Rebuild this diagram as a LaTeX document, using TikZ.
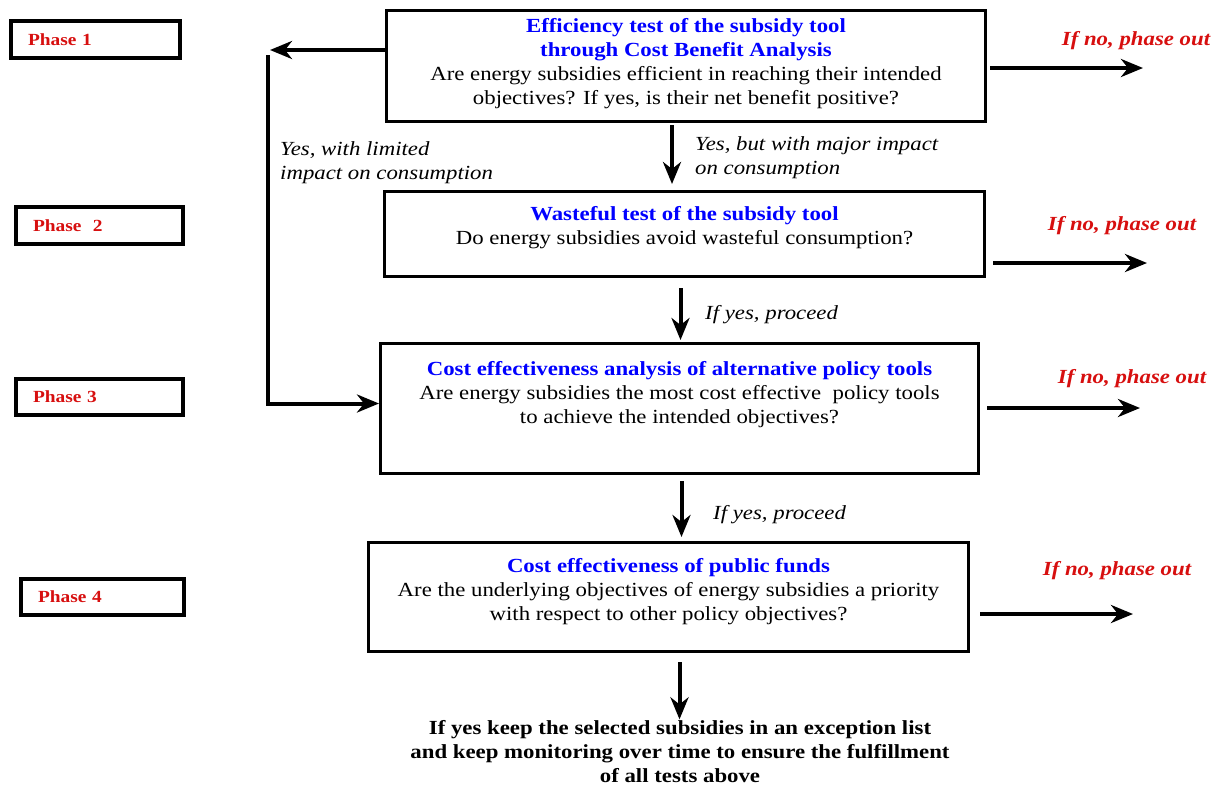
\documentclass[tikz,border=0pt]{standalone}
\usepackage{fontspec}
\setmainfont{Liberation Serif}[FakeStretch=1.14]
\usepackage{tikz}
\usetikzlibrary{arrows.meta,positioning}

\definecolor{phred}{RGB}{215,15,15}
\newcommand{\ttl}[1]{\textcolor{blue}{\textbf{#1}}}

\begin{document}
\begin{tikzpicture}[x=1pt,y=-1pt, ->,>={Stealth[length=22pt,width=18pt,inset=7pt]},
  box/.style={draw,-,line width=3pt,align=center,inner sep=0pt,font=\fontsize{20}{24}\selectfont},
  phasebox/.style={draw,-,line width=4pt,align=left,inner xsep=17pt,inner ysep=0pt,text=phred,font=\fontsize{17}{20}\selectfont\bfseries},
  nolab/.style={text=phred,font=\fontsize{20}{24}\selectfont\bfseries\itshape},
  yeslab/.style={align=left,inner sep=0pt,font=\fontsize{20}{24}\selectfont\itshape},
  arr/.style={line width=4pt}]
\useasboundingbox (0,0) rectangle (1218,785);
% phases
\node[phasebox,text width=135pt,minimum height=37pt](p1) at (95.5,39.5){Phase 1};
\node[phasebox,text width=133pt,minimum height=37pt](p2) at (99.5,225.5){Phase\ \ 2};
\node[phasebox,text width=133pt,minimum height=36pt](p3) at (99.5,397){Phase 3};
\node[phasebox,text width=129pt,minimum height=36pt](p4) at (102.5,597){Phase 4};
% tests
\node[box,minimum width=599pt,minimum height=111pt,text depth=9pt](b1) at (686,66){\ttl{Efficiency test of the subsidy tool}\\
  \ttl{through Cost Benefit Analysis}\\
  Are energy subsidies efficient in reaching their intended\\
  objectives? If yes, is their net benefit positive?};
\node[box,minimum width=600pt,minimum height=85pt,text depth=18pt](b2) at (684.5,234){\ttl{Wasteful test of the subsidy tool}\\
  Do energy subsidies avoid wasteful consumption?};
\node[box,minimum width=598pt,minimum height=130pt,text depth=33pt](b3) at (679.5,408.5){\ttl{Cost effectiveness analysis of alternative policy tools}\\
  Are energy subsidies the most cost effective\ \ policy tools\\
  to achieve the intended objectives?};
\node[box,minimum width=600pt,minimum height=109pt,text depth=16pt](b4) at (668.5,597){\ttl{Cost effectiveness of public funds}\\
  Are the underlying objectives of energy subsidies a priority\\
  with respect to other policy objectives?};
\node[box,draw=none,font=\fontsize{20}{24}\selectfont\bfseries](fin) at (680,752){If yes keep the selected subsidies in an exception list\\
  and keep monitoring over time to ensure the fulfillment\\
  of all tests above};
% phase out
\coordinate (o1) at (1143,68);
\coordinate (o2) at (1147,263);
\coordinate (o3) at (1140,408);
\coordinate (o4) at (1133,614);
\node[nolab](n1) at (1136,41){If no, phase out};
\node[nolab](n2) at (1122,226){If no, phase out};
\node[nolab](n3) at (1132,379){If no, phase out};
\node[nolab](n4) at (1117,571){If no, phase out};
\draw[arr,shorten <=3pt] (b1.east|-o1) -- (o1);
\draw[arr,shorten <=7pt] (b2.east|-o2) -- (o2);
\draw[arr,shorten <=7pt] (b3.east|-o3) -- (o3);
\draw[arr,shorten <=10pt] (b4.east|-o4) -- (o4);
% down the chain
\draw[arr,shorten <=2pt,shorten >=6pt] ([xshift=-14pt]b1.south) -- ([xshift=-14pt]b1.south|-b2.north);
\draw[arr,shorten <=10pt,shorten >=2pt] ([xshift=-4pt]b2.south) -- ([xshift=-4pt]b2.south|-b3.north);
\draw[arr,shorten <=6pt,shorten >=4pt] ([xshift=2pt]b3.south) -- ([xshift=2pt]b3.south|-b4.north);
\draw[arr,shorten <=9pt] ([xshift=11pt]b4.south) -- ([xshift=11pt]b4.south|-fin.north);
\node[yeslab,anchor=west](y1) at (695,158){Yes, but with major impact\\on consumption};
\node[yeslab,anchor=west](y2) at (705,315){If yes, proceed};
\node[yeslab,anchor=west](y3) at (713,515){If yes, proceed};
% limited impact loop
\coordinate (lt) at (270,50);
\coordinate (lb) at (268,55);
\draw[arr] (lt-|b1.west) -- (lt);
\draw[arr] (lb) |- ([yshift=5pt]b3.west);
\node[yeslab,anchor=west](y0) at (280,163){Yes, with limited\\impact on consumption};
\end{tikzpicture}
\end{document}
